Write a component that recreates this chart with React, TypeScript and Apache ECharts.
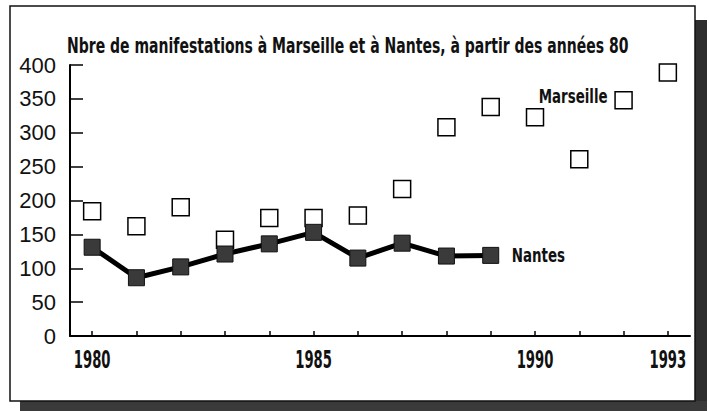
import React, { useEffect, useRef } from "react";
import * as echarts from "echarts";

const years = ["1980","1981","1982","1983","1984","1985","1986","1987","1988","1989","1990","1991","1992","1993"];
const shownYears = ["1980", "1985", "1990", "1993"];
const marseille = [184, 162, 190, 142, 174, 174, 178, 217, 308, 338, 323, 261, 348, 389];
const nantes = [131, 86, 102, 121, 136, 153, 115, 137, 118, 119];
const titleText = "Nbre de manifestations à Marseille et à Nantes, à partir des années 80";
const seriesNames = ["Marseille", "Nantes"];
const condensed = "'DejaVu Sans', sans-serif";

export default function App() {
  const ref = useRef<HTMLDivElement>(null);
  useEffect(() => {
    const chart = echarts.init(ref.current!, null, { renderer: "svg" });
    const marseilleLabelIdx = 12;
    const nantesLabelIdx = nantes.length - 1;
    chart.setOption({
      animation: false,
      backgroundColor: "#fff",
      graphic: [
        { type: "rect", z: -10, shape: { x: 695, y: 20, width: 12, height: 391 }, style: { fill: "#2e2e2e" } },
        { type: "rect", z: -10, shape: { x: 20, y: 401, width: 687, height: 10 }, style: { fill: "#3a3a3a" } },
        { type: "rect", z: -10, shape: { x: 10, y: 6, width: 685, height: 395 }, style: { fill: "#fff", stroke: "#111", lineWidth: 1.5 } },
        {
          type: "text",
          z: 10,
          x: 67,
          y: 45,
          scaleX: 0.668,
          style: {
            text: titleText,
            font: `bold 21px ${condensed}`,
            fill: "#111",
            textAlign: "left",
            textVerticalAlign: "middle",
          },
        },
      ],
      grid: { left: 70, right: 19, top: 65, bottom: 75 },
      xAxis: {
        type: "category",
        data: years,
        boundaryGap: true,
        axisLine: { lineStyle: { color: "#000", width: 2 } },
        axisTick: { show: true, inside: true, length: 5, alignWithLabel: true, interval: 0, lineStyle: { color: "#000", width: 1.5 } },
        axisLabel: { show: false },
        splitLine: { show: false },
      },
      yAxis: {
        type: "value",
        min: 0,
        max: 400,
        interval: 50,
        axisLine: { show: true, lineStyle: { color: "#000", width: 2 } },
        axisTick: { show: true, inside: true, length: 13, lineStyle: { color: "#000", width: 1.5 } },
        axisLabel: { margin: 14, fontFamily: "'Liberation Sans', Arial, sans-serif", fontSize: 22, color: "#111" },
        splitLine: { show: false },
      },
      series: [
        {
          name: seriesNames[0],
          type: "scatter",
          symbol: "rect",
          symbolSize: 17,
          z: 3,
          itemStyle: { color: "#fff", borderColor: "#000", borderWidth: 1.5, opacity: 1 },
          data: marseille,
        },
        {
          name: seriesNames[1],
          type: "line",
          symbol: "rect",
          symbolSize: 16,
          z: 4,
          lineStyle: { color: "#000", width: 5 },
          itemStyle: { color: "#3a3a3a", borderColor: "#111", borderWidth: 1 },
          data: nantes,
        },
        {
          name: "xLabels",
          type: "custom",
          clip: false,
          silent: true,
          z: 5,
          data: shownYears.map((y) => [years.indexOf(y), 0]),
          renderItem: (params: any, api: any) => {
            const idx = api.value(0);
            const p = api.coord([idx, 0]);
            return {
              type: "text",
              x: p[0],
              y: p[1] + 24,
              scaleX: 0.55,
              style: {
                text: years[idx],
                font: `bold 24px ${condensed}`,
                fill: "#111",
                textAlign: "center",
                textVerticalAlign: "middle",
              },
            };
          },
        },
        {
          name: "seriesLabels",
          type: "custom",
          clip: false,
          silent: true,
          z: 5,
          data: [
            [marseilleLabelIdx, marseille[marseilleLabelIdx], 0],
            [nantesLabelIdx, nantes[nantesLabelIdx], 1],
          ],
          renderItem: (params: any, api: any) => {
            const p = api.coord([api.value(0), api.value(1)]);
            const which = api.value(2);
            const isLeft = which === 0;
            return {
              type: "text",
              x: isLeft ? p[0] - 16 : p[0] + 21,
              y: isLeft ? p[1] - 4 : p[1],
              scaleX: 0.67,
              style: {
                text: seriesNames[which],
                font: `bold 20px ${condensed}`,
                fill: "#111",
                textAlign: isLeft ? "right" : "left",
                textVerticalAlign: "middle",
              },
            };
          },
        },
      ],
    });
    return () => chart.dispose();
  }, []);
  return <div ref={ref} style={{ position: "fixed", left: 0, top: 0, width: 709, height: 411 }} />;
}
